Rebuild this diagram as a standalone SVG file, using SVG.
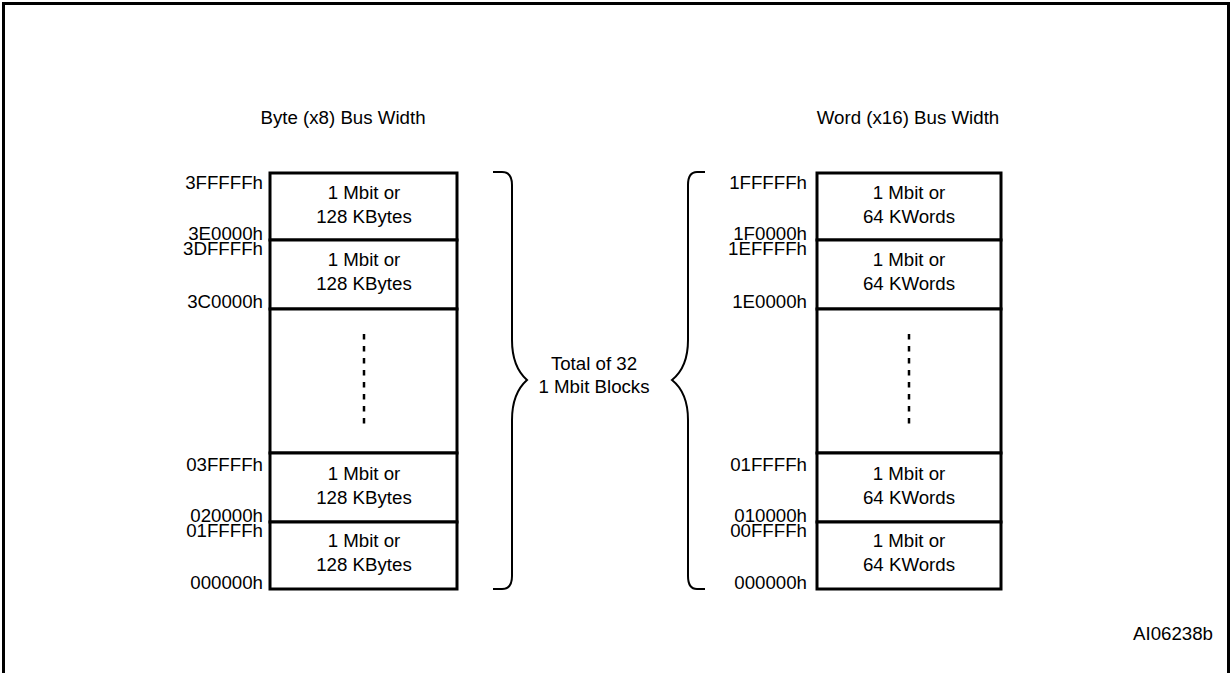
<svg xmlns="http://www.w3.org/2000/svg" width="1231" height="673" viewBox="0 0 1231 673">
<style>
text{font-family:"Liberation Sans",Arial,sans-serif;font-size:18.7px;fill:#000}
.c{text-anchor:middle}
.r{text-anchor:end}
.blk{fill:#fff;stroke:#000;stroke-width:3}
.brace{fill:none;stroke:#000;stroke-width:2}
.dash{stroke:#000;stroke-width:2.5;stroke-dasharray:5.5 6.5}
</style>
<rect x="0" y="0" width="1231" height="673" fill="#fff"/>
<rect x="3.5" y="3.5" width="1225" height="700" fill="none" stroke="#000" stroke-width="3"/>
<text class="c" x="343" y="124">Byte (x8) Bus Width</text>
<text class="c" x="908" y="124">Word (x16) Bus Width</text>

<g id="byte-col">
<g id="b1"><rect class="blk" x="270" y="173" width="187" height="67"/>
<text class="c" x="364" y="199">1 Mbit or</text><text class="c" x="364" y="223">128 KBytes</text></g>
<g id="b2"><rect class="blk" x="270" y="240" width="187" height="69"/>
<text class="c" x="364" y="266">1 Mbit or</text><text class="c" x="364" y="290">128 KBytes</text></g>
<g id="b3"><rect class="blk" x="270" y="309" width="187" height="144"/>
<line class="dash" x1="364" y1="334" x2="364" y2="424"/></g>
<g id="b4"><rect class="blk" x="270" y="453" width="187" height="69"/>
<text class="c" x="364" y="480">1 Mbit or</text><text class="c" x="364" y="504">128 KBytes</text></g>
<g id="b5"><rect class="blk" x="270" y="522" width="187" height="67"/>
<text class="c" x="364" y="547">1 Mbit or</text><text class="c" x="364" y="571">128 KBytes</text></g>
<g id="byte-addr">
<text class="r" x="263" y="189">3FFFFFh</text>
<text class="r" x="263" y="240">3E0000h</text>
<text class="r" x="263" y="255">3DFFFFh</text>
<text class="r" x="263" y="308">3C0000h</text>
<text class="r" x="263" y="471">03FFFFh</text>
<text class="r" x="263" y="522">020000h</text>
<text class="r" x="263" y="537">01FFFFh</text>
<text class="r" x="263" y="589">000000h</text>
</g>
</g>

<g id="word-col">
<g id="w1"><rect class="blk" x="817" y="173" width="184" height="67"/>
<text class="c" x="909" y="199">1 Mbit or</text><text class="c" x="909" y="223">64 KWords</text></g>
<g id="w2"><rect class="blk" x="817" y="240" width="184" height="69"/>
<text class="c" x="909" y="266">1 Mbit or</text><text class="c" x="909" y="290">64 KWords</text></g>
<g id="w3"><rect class="blk" x="817" y="309" width="184" height="144"/>
<line class="dash" x1="909" y1="334" x2="909" y2="424"/></g>
<g id="w4"><rect class="blk" x="817" y="453" width="184" height="69"/>
<text class="c" x="909" y="480">1 Mbit or</text><text class="c" x="909" y="504">64 KWords</text></g>
<g id="w5"><rect class="blk" x="817" y="522" width="184" height="67"/>
<text class="c" x="909" y="547">1 Mbit or</text><text class="c" x="909" y="571">64 KWords</text></g>
<g id="word-addr">
<text class="r" x="807" y="189">1FFFFFh</text>
<text class="r" x="807" y="240">1F0000h</text>
<text class="r" x="807" y="255">1EFFFFh</text>
<text class="r" x="807" y="308">1E0000h</text>
<text class="r" x="807" y="471">01FFFFh</text>
<text class="r" x="807" y="522">010000h</text>
<text class="r" x="807" y="537">00FFFFh</text>
<text class="r" x="807" y="589">000000h</text>
</g>
</g>

<g id="connectors">
<path class="brace" d="M493,172 L502,172 Q512,172 512,185 L512,340 C512,360 518,372 527,380 C518,388 512,400 512,420 L512,576 Q512,589 502,589 L493,589"/>
<path class="brace" d="M705,172 L697,172 Q688,172 688,185 L688,340 C688,360 682,372 672,380 C682,388 688,400 688,420 L688,576 Q688,589 697,589 L705,589"/>
</g>
<g id="total">
<text class="c" x="594" y="370">Total of 32</text>
<text class="c" x="594" y="393">1 Mbit Blocks</text>
</g>
<text class="r" x="1213" y="640">AI06238b</text>
</svg>
